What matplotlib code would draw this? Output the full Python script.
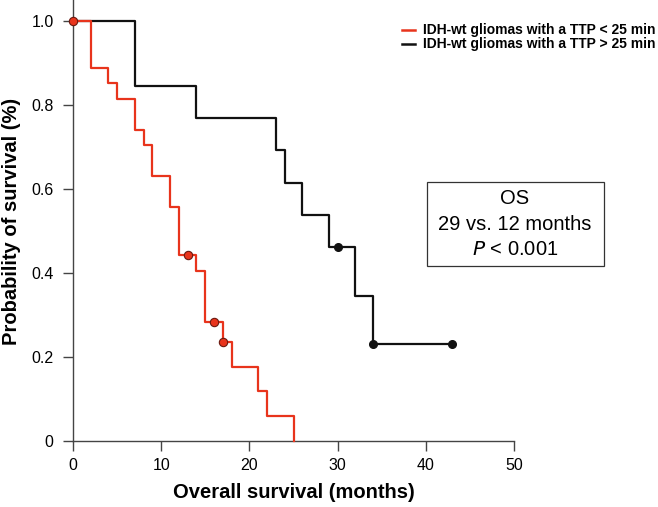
import matplotlib
matplotlib.use("Agg")
import matplotlib.pyplot as plt
from matplotlib.patches import Rectangle
from matplotlib.lines import Line2D

plt.rcParams['font.family'] = ['Liberation Sans', 'DejaVu Sans']

# Red group: TTP < 25 min
red_t = [0, 2, 4, 5, 7, 8, 9, 11, 12, 14, 15, 17, 18, 21, 22, 25]
red_s = [1.0, 0.889, 0.852, 0.815, 0.741, 0.704, 0.630, 0.556, 0.444, 0.404, 0.283, 0.236, 0.177, 0.118, 0.059, 0.0]
red_cens_t = [0, 13, 16, 17]
red_cens_s = [1.0, 0.444, 0.283, 0.236]

# Black group: TTP > 25 min
blk_t = [0, 7, 14, 23, 24, 26, 29, 32, 34, 43]
blk_s = [1.0, 0.846, 0.769, 0.692, 0.615, 0.538, 0.462, 0.346, 0.231, 0.231]
blk_cens_t = [30, 34, 43]
blk_cens_s = [0.462, 0.231, 0.231]

legend_labels = ["IDH-wt gliomas with a TTP < 25 min", "IDH-wt gliomas with a TTP > 25 min"]
box_lines = ["OS", "29 vs. 12 months", r"$\it{P}$ < 0.001"]
xticks = [0, 10, 20, 30, 40, 50]
yticks = [0, 0.2, 0.4, 0.6, 0.8, 1.0]
ytick_labels = ["0", "0.2", "0.4", "0.6", "0.8", "1.0"]

W, H = 658, 507
RED = "#E8341C"
BLK = "#111111"
fig = plt.figure(figsize=(W/100, H/100), dpi=100)
ax = fig.add_axes([73/W, 66/H, (514-73)/W, 441/H])

ax.step(red_t, red_s, where='post', color=RED, lw=1.6, clip_on=False, zorder=3)
ax.step(blk_t, blk_s, where='post', color=BLK, lw=1.6, clip_on=False, zorder=2)
ax.plot(red_cens_t, red_cens_s, 'o', color=RED, mec='#6a1a10', mew=0.8, ms=6, clip_on=False, zorder=4)
ax.plot(blk_cens_t, blk_cens_s, 'o', color=BLK, ms=5.5, clip_on=False, zorder=4)

ax.set_xlim(0, 50)
ax.set_ylim(0, 1.05)
for s in ['top', 'right']:
    ax.spines[s].set_visible(False)
for s in ['left', 'bottom']:
    ax.spines[s].set_color('#444444')
    ax.spines[s].set_linewidth(1.0)
ax.set_xticks(xticks)
ax.set_yticks(yticks)
ax.set_yticklabels(ytick_labels)
ax.tick_params(direction='out', length=7, width=1.0, color='#444444', labelsize=11.5)
ax.tick_params(axis='x', pad=5)
ax.tick_params(axis='y', pad=7)

def fy(py):
    return 1 - py / H

fig.text(294/W, fy(493), "Overall survival (months)", fontsize=14.5, fontweight='bold',
         ha='center', va='center')
fig.text(12/W, fy(221), "Probability of survival (%)", fontsize=14.5, fontweight='bold',
         ha='center', va='center', rotation=90)

# legend drawn manually
for i, (lab, col) in enumerate(zip(legend_labels, [RED, BLK])):
    yy = fy(30 + 14 * i)
    fig.add_artist(Line2D([402/W, 415/W], [yy, yy], color=col, lw=1.8))
    fig.text(423/W, yy, lab, fontsize=10, fontweight='bold', ha='left', va='center')

# annotation box
fig.add_artist(Rectangle((427/W, fy(266)), (604-427)/W, (266-182)/H, transform=fig.transFigure,
                         fill=False, ec='#333333', lw=0.9))
for i, line in enumerate(box_lines):
    fig.text(515/W, fy(199 + 25 * i), line, fontsize=14.5, ha='center', va='center')

fig.savefig("out.png", dpi=100)
